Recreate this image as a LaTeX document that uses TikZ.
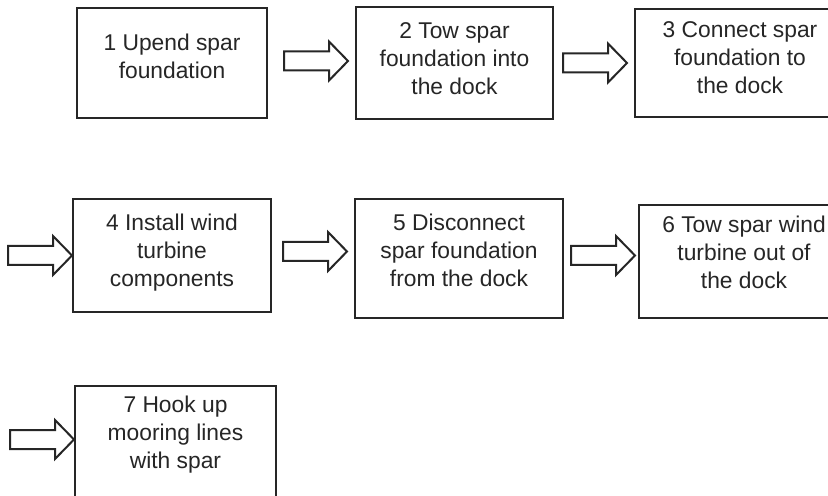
\documentclass[tikz,border=0pt]{standalone}
\usepackage{fontspec}
\setmainfont{Liberation Sans}
\usepackage{tikz}
\usetikzlibrary{positioning,calc}

\begin{document}
\begin{tikzpicture}[x=0.5pt, y=0.5pt, node distance=40pt,
        stepbox/.style={draw=black!85, line width=1pt, rectangle, align=center, fill=white,
            text=black!85, font=\fontsize{11.4}{14}\selectfont, inner sep=0pt, text depth=6.5pt},
        hollowarrow/.pic={\draw[draw=black!85, line width=1pt, line join=miter, fill=white]
            (0,-9.5) -- (45,-9.5) -- (45,-19.5) -- (64,0) -- (45,19.5) -- (45,9.5) -- (0,9.5) -- cycle;}
    ]
        \useasboundingbox (0,0) rectangle (828,-496);

        % first row
        \node [stepbox, minimum width=95pt, minimum height=55pt, text depth=7pt] (s1) at (172,-63) {1 Upend spar\\foundation};
        \node [stepbox, minimum width=98.5pt, minimum height=56pt, text depth=4pt, right=43.5pt of s1] (s2) {2 Tow spar\\foundation into\\the dock};
        \node [stepbox, minimum width=105pt, minimum height=54pt, text depth=5pt, right=40pt of s2] (s3) {3 Connect spar\\foundation to\\the dock};

        % second row
        \node [stepbox, minimum width=99pt, minimum height=56.5pt, text depth=5pt, below=39.5pt of s1] (s4) {4 Install wind\\turbine\\components};
        \node [stepbox, minimum width=104pt, minimum height=59.5pt, text depth=8pt, right=41pt of s4, yshift=-1.5pt] (s5) {5 Disconnect\\spar foundation\\from the dock};
        \node [stepbox, minimum width=105pt, minimum height=56.5pt, text depth=9.5pt, right=37pt of s5, yshift=-1.5pt] (s6) {6 Tow spar wind\\turbine out of\\the dock};

        % third row
        \node [stepbox, minimum width=100.5pt, minimum height=55.5pt, text depth=9pt, below=36pt of s4, xshift=1.75pt] (s7) {7 Hook up\\mooring lines\\with spar};

        \coordinate [right=8pt of s1.east, yshift=1pt] (a1);
        \coordinate [right=4.5pt of s2.east] (a2);
        \coordinate [left=32pt of s4.west] (a3);
        \coordinate [right=5.5pt of s4.east, yshift=2pt] (a4);
        \coordinate [right=3.5pt of s5.east, yshift=1.5pt] (a5);
        \coordinate [left=32pt of s7.west, yshift=1pt] (a6);

        \foreach \a in {a1,a2,a3,a4,a5,a6}
            \pic at (\a) {hollowarrow};

    \end{tikzpicture}
\end{document}
